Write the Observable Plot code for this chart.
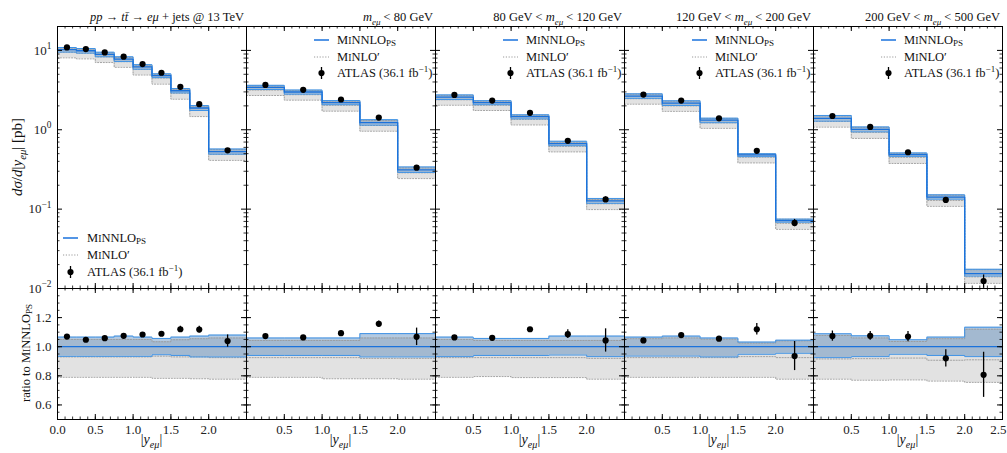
<!DOCTYPE html>
<html><head><meta charset="utf-8">
<script src="https://cdn.jsdelivr.net/npm/d3@7"></script>
<script src="https://cdn.jsdelivr.net/npm/@observablehq/plot@0.6"></script>
<style>
body{margin:0;background:#fff;}
#chart{position:relative;width:1007px;height:453px;font-family:"Liberation Serif",serif;}
#chart svg{position:absolute;left:0;overflow:visible;}
</style></head><body><div id="chart"></div>
<script>
// ---------------- data ----------------
const panelIds = ["all", "m1", "m2", "m3", "m4"];
const panelTitles = [
  "*pp* → *tt̄* → *eμ* + jets @ 13 TeV",
  "*m*_{eμ} < 80 GeV",
  "80 GeV < *m*_{eμ} < 120 GeV",
  "120 GeV < *m*_{eμ} < 200 GeV",
  "200 GeV < *m*_{eμ} < 500 GeV"
];
const edgesFine = [0, 0.25, 0.5, 0.75, 1.0, 1.25, 1.5, 1.75, 2.0, 2.5];
const edgesCoarse = [0, 0.5, 1.0, 1.5, 2.0, 2.5];
const panelEdges = [edgesFine, edgesCoarse, edgesCoarse, edgesCoarse, edgesCoarse];

// MiNNLO_PS central prediction dσ/d|y| [pb]
const minnlo = [
  [10.2, 9.9, 8.9, 7.75, 6.2, 4.8, 3.1, 1.88, 0.53],
  [3.42, 2.99, 2.20, 1.23, 0.312],
  [2.58, 2.20, 1.46, 0.668, 0.127],
  [2.66, 2.16, 1.32, 0.484, 0.0716],
  [1.39, 1.01, 0.487, 0.142, 0.0154]
];
// MiNNLO_PS scale band (ratio to central)
const minnloUp = [
  [1.066, 1.066, 1.066, 1.073, 1.066, 1.057, 1.066, 1.073, 1.08],
  [1.06, 1.06, 1.06, 1.09, 1.09],
  [1.066, 1.057, 1.057, 1.073, 1.073],
  [1.066, 1.073, 1.06, 1.032, 1.045],
  [1.089, 1.075, 1.048, 1.066, 1.134]
];
const minnloDn = [
  [0.934, 0.934, 0.934, 0.934, 0.934, 0.945, 0.94, 0.93, 0.93],
  [0.94, 0.94, 0.94, 0.93, 0.93],
  [0.932, 0.94, 0.94, 0.943, 0.932],
  [0.936, 0.936, 0.93, 0.948, 0.955],
  [0.925, 0.932, 0.948, 0.94, 0.932]
];
// MiNLO' (ratio to MiNNLO_PS central)
const minloC = [
  [0.93, 0.93, 0.93, 0.93, 0.93, 0.935, 0.93, 0.93, 0.925],
  [0.925, 0.925, 0.925, 0.92, 0.92],
  [0.925, 0.925, 0.925, 0.925, 0.92],
  [0.925, 0.925, 0.925, 0.932, 0.925],
  [0.916, 0.918, 0.922, 0.907, 0.91]
];
const minloUp = [
  [1.05, 1.05, 1.05, 1.05, 1.05, 1.034, 1.048, 1.055, 1.06],
  [1.043, 1.043, 1.043, 1.06, 1.06],
  [1.05, 1.043, 1.043, 1.043, 1.043],
  [1.055, 1.06, 1.052, 1.025, 1.04],
  [1.077, 1.06, 1.036, 1.055, 1.12]
];
const minloDn = [
  [0.79, 0.79, 0.79, 0.79, 0.79, 0.783, 0.783, 0.78, 0.777],
  [0.79, 0.79, 0.78, 0.78, 0.777],
  [0.79, 0.795, 0.788, 0.788, 0.777],
  [0.79, 0.79, 0.79, 0.79, 0.777],
  [0.777, 0.77, 0.772, 0.764, 0.755]
];
// ATLAS data (ratio to MiNNLO_PS central) and its uncertainty
const atlasRatio = [
  [1.07, 1.048, 1.059, 1.075, 1.084, 1.089, 1.12, 1.118, 1.039],
  [1.073, 1.064, 1.093, 1.157, 1.068],
  [1.064, 1.061, 1.12, 1.086, 1.043],
  [1.043, 1.08, 1.055, 1.12, 0.936],
  [1.073, 1.075, 1.07, 0.92, 0.807]
];
const atlasErr = [
  [0.008, 0.008, 0.008, 0.01, 0.01, 0.012, 0.02, 0.022, 0.042],
  [0.01, 0.01, 0.015, 0.02, 0.06],
  [0.01, 0.01, 0.012, 0.03, 0.08],
  [0.01, 0.012, 0.015, 0.04, 0.1],
  [0.035, 0.03, 0.035, 0.06, 0.155]
];
// tick labels
const topYTicks = [0.01, 0.1, 1, 10];
const topYTickLabels = ["10^{−2}", "10^{−1}", "10^{0}", "10^{1}"];
const ratioYTicks = [0.6, 0.8, 1.0, 1.2];
const xTicksByPanel = [
  [0.0, 0.5, 1.0, 1.5, 2.0],
  [0.5, 1.0, 1.5, 2.0],
  [0.5, 1.0, 1.5, 2.0],
  [0.5, 1.0, 1.5, 2.0],
  [0.5, 1.0, 1.5, 2.0]
];
const xTickEdgeLabel = [{panel: "m4", v: 2.5}];

// ---------------- build tables ----------------
const rows = [], steps = [];
panelIds.forEach((p, i) => {
  const e = panelEdges[i];
  const n = minnlo[i].length;
  for (let j = 0; j < n; j++) {
    const c = minnlo[i][j];
    const r = {
      panel: p, x1: e[j], x2: e[j + 1], xm: (e[j] + e[j + 1]) / 2, c,
      up: minnloUp[i][j], dn: minnloDn[i][j],
      mc: minloC[i][j], mup: minloUp[i][j], mdn: minloDn[i][j],
      d: atlasRatio[i][j], e: atlasErr[i][j]
    };
    rows.push(r);
    steps.push({...r, x: e[j]});
    if (j === n - 1) steps.push({...r, x: e[j + 1]});
  }
});

const W = 1007, ML = 57, MR = 5;
const FW = (W - ML - MR) / 5;
const BLUE = "#1a72dc", BLUE_EDGE = "#3f93e6", BLUE_FILL = "#4d80b8";
const GRAY_FILL = "#e2e2e2", GRAY_LINE = "#9a9a9a", DOT = "1.2,1.6";
const FONT = {fontFamily: "Liberation Serif, serif", fontSize: "12.5px", background: "transparent"};

const xMajor = [0, 0.5, 1, 1.5, 2, 2.5];
const xMinor = d3.range(0, 2.501, 0.1);

function xTickMarks(h) {
  return [
    Plot.tickX(xMajor, {x: d => d, insetTop: h - 5, stroke: "black"}),
    Plot.tickX(xMajor, {x: d => d, insetBottom: h - 5, stroke: "black"}),
    Plot.tickX(xMinor, {x: d => d, insetTop: h - 2.5, stroke: "black", strokeWidth: 0.8}),
    Plot.tickX(xMinor, {x: d => d, insetBottom: h - 2.5, stroke: "black", strokeWidth: 0.8})
  ];
}
function yTickMarks(major, minor) {
  return [
    Plot.tickY(major, {y: d => d, insetRight: FW - 5, stroke: "black"}),
    Plot.tickY(major, {y: d => d, insetLeft: FW - 5, stroke: "black"}),
    Plot.tickY(minor, {y: d => d, insetRight: FW - 2.5, stroke: "black", strokeWidth: 0.8}),
    Plot.tickY(minor, {y: d => d, insetLeft: FW - 2.5, stroke: "black", strokeWidth: 0.8})
  ];
}
function bandMarks(k) {
  const s = (f) => (d) => f(d) * k(d);
  const o = {x: "x", fx: "panel", curve: "step-after"};
  return [
    Plot.areaY(steps, {...o, y1: s(d => d.mdn), y2: s(d => d.mup), fill: GRAY_FILL}),
    Plot.areaY(steps, {...o, y1: s(d => d.dn), y2: s(d => d.up), fill: BLUE_FILL, fillOpacity: 0.42}),
    Plot.line(steps, {...o, y: s(d => d.mup), stroke: GRAY_LINE, strokeWidth: 0.9, strokeDasharray: DOT}),
    Plot.line(steps, {...o, y: s(d => d.mc), stroke: GRAY_LINE, strokeWidth: 0.9, strokeDasharray: DOT}),
    Plot.line(steps, {...o, y: s(d => d.mdn), stroke: GRAY_LINE, strokeWidth: 0.9, strokeDasharray: DOT}),
    Plot.line(steps, {...o, y: s(d => d.up), stroke: BLUE_EDGE, strokeWidth: 1}),
    Plot.line(steps, {...o, y: s(d => d.dn), stroke: BLUE_EDGE, strokeWidth: 1}),
    Plot.line(steps, {...o, y: s(d => 1), stroke: BLUE, strokeWidth: 1.3}),
    Plot.ruleX(rows, {fx: "panel", x: "xm", y1: s(d => d.d - d.e), y2: s(d => d.d + d.e), stroke: "black", strokeWidth: 1.3}),
    Plot.dot(rows, {fx: "panel", x: "xm", y: s(d => d.d), r: 3.1, fill: "black"})
  ];
}

const logMinor = [];
[0.01, 0.1, 1, 10].forEach(b => [2,3,4,5,6,7,8,9].forEach(m => { if (b * m <= 20) logMinor.push(b * m); }));

const topH = 288;
const topPlot = Plot.plot({
  width: W, height: topH, marginLeft: ML, marginRight: MR, marginTop: 26, marginBottom: 0,
  style: FONT,
  x: {domain: [0, 2.5], axis: null},
  y: {type: "log", domain: [0.01, 20], axis: null},
  fx: {domain: panelIds, padding: 0, axis: null},
  marks: [
    ...bandMarks(d => d.c),
    ...xTickMarks(topH - 26),
    ...yTickMarks([0.01, 0.1, 1, 10], logMinor),
    Plot.text(topYTicks.map((v, i) => ({panel: "all", v, t: topYTickLabels[i]})),
      {fx: "panel", y: "v", text: "t", frameAnchor: "left", textAnchor: "end", dx: -6, fill: "#222", fontSize: 13}),
    Plot.frame({stroke: "black", strokeWidth: 1})
  ]
});

const botH = 165;
const botPlot = Plot.plot({
  width: W, height: botH, marginLeft: ML, marginRight: MR, marginTop: 0, marginBottom: 34,
  style: FONT,
  x: {domain: [0, 2.5], axis: null},
  y: {domain: [0.5, 1.4], axis: null},
  fx: {domain: panelIds, padding: 0, axis: null},
  marks: [
    ...bandMarks(d => 1),
    ...xTickMarks(botH - 34),
    ...yTickMarks([0.6, 0.8, 1.0, 1.2], d3.range(0.5, 1.401, 0.05)),
    Plot.text(ratioYTicks.map(v => ({panel: "all", v})),
      {fx: "panel", y: "v", text: d => d.v.toFixed(1), frameAnchor: "left", textAnchor: "end", dx: -6, fill: "#222", fontSize: 13}),
    Plot.text(xTicksByPanel.flatMap((a, i) => a.map(v => ({panel: panelIds[i], v}))),
      {fx: "panel", x: "v", text: d => d.v.toFixed(1), frameAnchor: "bottom", lineAnchor: "top", dy: 5, fill: "#222", fontSize: 13}),
    Plot.text(xTickEdgeLabel,
      {fx: "panel", x: "v", text: d => d.v.toFixed(1), frameAnchor: "bottom", lineAnchor: "top", textAnchor: "end", dx: 4, dy: 5, fill: "#222", fontSize: 13}),
    Plot.frame({stroke: "black", strokeWidth: 1})
  ]
});

const chart = document.getElementById("chart");
botPlot.style.top = topH + "px";
chart.appendChild(botPlot);
topPlot.style.top = "0px";
chart.appendChild(topPlot);

// ---------------- rich text helper ----------------
function rich(sel, str, fs) {
  sel.text(null);
  const re = /(\*[^*]+\*|_\{[^}]+\}|_\[[^\]]+\]|\^\{[^}]+\}|~[^~]+~)/g;
  const parts = str.split(re).filter(s => s !== "");
  let shift = 0;
  for (const p of parts) {
    let t = p, style = "normal", size = fs, dy = 0;
    if (p[0] === "*") { t = p.slice(1, -1); style = "italic"; }
    else if (p.startsWith("_{")) { t = p.slice(2, -1); style = "italic"; size = fs * 0.72; dy = fs * 0.28; }
    else if (p.startsWith("_[")) { t = p.slice(2, -1); size = fs * 0.72; dy = fs * 0.12; }
    else if (p.startsWith("^{")) { t = p.slice(2, -1); size = fs * 0.72; dy = -fs * 0.42; }
    else if (p[0] === "~") { t = p.slice(1, -1); size = fs * 0.78; }
    const ts = sel.append("tspan").text(t).attr("font-size", size).attr("font-style", style);
    const d = dy - shift;
    if (d) ts.attr("dy", d);
    shift = dy;
  }
}
d3.select(topPlot).selectAll("text").each(function () {
  const s = this.textContent;
  if (s.includes("^{")) rich(d3.select(this), s, 13);
});

// ---------------- overlay: titles, axis labels, legends ----------------
const ov = d3.select(chart).append("svg")
  .attr("width", W).attr("height", 453).style("top", "0px")
  .style("pointer-events", "none")
  .attr("font-family", "Liberation Serif, serif").attr("fill", "#111");

panelIds.forEach((p, i) => {
  const left = ML + i * FW;
  rich(ov.append("text").attr("x", left + FW - 2).attr("y", 21).attr("text-anchor", "end"), panelTitles[i], 12.5);
  rich(ov.append("text").attr("x", left + FW / 2).attr("y", 444).attr("text-anchor", "middle"), "|*y*_{eμ}|", 14);
  const lx = i === 0 ? left + 6 : left + 68;
  const tx = i === 0 ? left + 30 : left + 91;
  const ys = i === 0 ? [238, 255, 272] : [40, 57, 73];
  ov.append("line").attr("x1", lx).attr("x2", lx + 15).attr("y1", ys[0]).attr("y2", ys[0]).attr("stroke", BLUE).attr("stroke-width", 1.5);
  ov.append("line").attr("x1", lx).attr("x2", lx + 15).attr("y1", ys[1]).attr("y2", ys[1]).attr("stroke", GRAY_LINE).attr("stroke-width", 1).attr("stroke-dasharray", DOT);
  ov.append("line").attr("x1", lx + 7.5).attr("x2", lx + 7.5).attr("y1", ys[2] - 6).attr("y2", ys[2] + 6).attr("stroke", "black").attr("stroke-width", 1.3);
  ov.append("circle").attr("cx", lx + 7.5).attr("cy", ys[2]).attr("r", 3.1).attr("fill", "black");
  rich(ov.append("text").attr("x", tx).attr("y", ys[0] + 4), "M~I~NNLO_[PS]", 12.5);
  rich(ov.append("text").attr("x", tx).attr("y", ys[1] + 4), "M~I~NLO′", 12.5);
  rich(ov.append("text").attr("x", tx).attr("y", ys[2] + 4), "ATLAS (36.1 fb^{−1})", 12.5);
});
rich(ov.append("text").attr("transform", "translate(22,157) rotate(-90)").attr("text-anchor", "middle"),
  "*dσ*/*d*|*y*_{eμ}| [pb]", 15);
rich(ov.append("text").attr("transform", "translate(30,353) rotate(-90)").attr("text-anchor", "middle"),
  "ratio to M~I~NNLO_[PS]", 12.5);
</script></body></html>
